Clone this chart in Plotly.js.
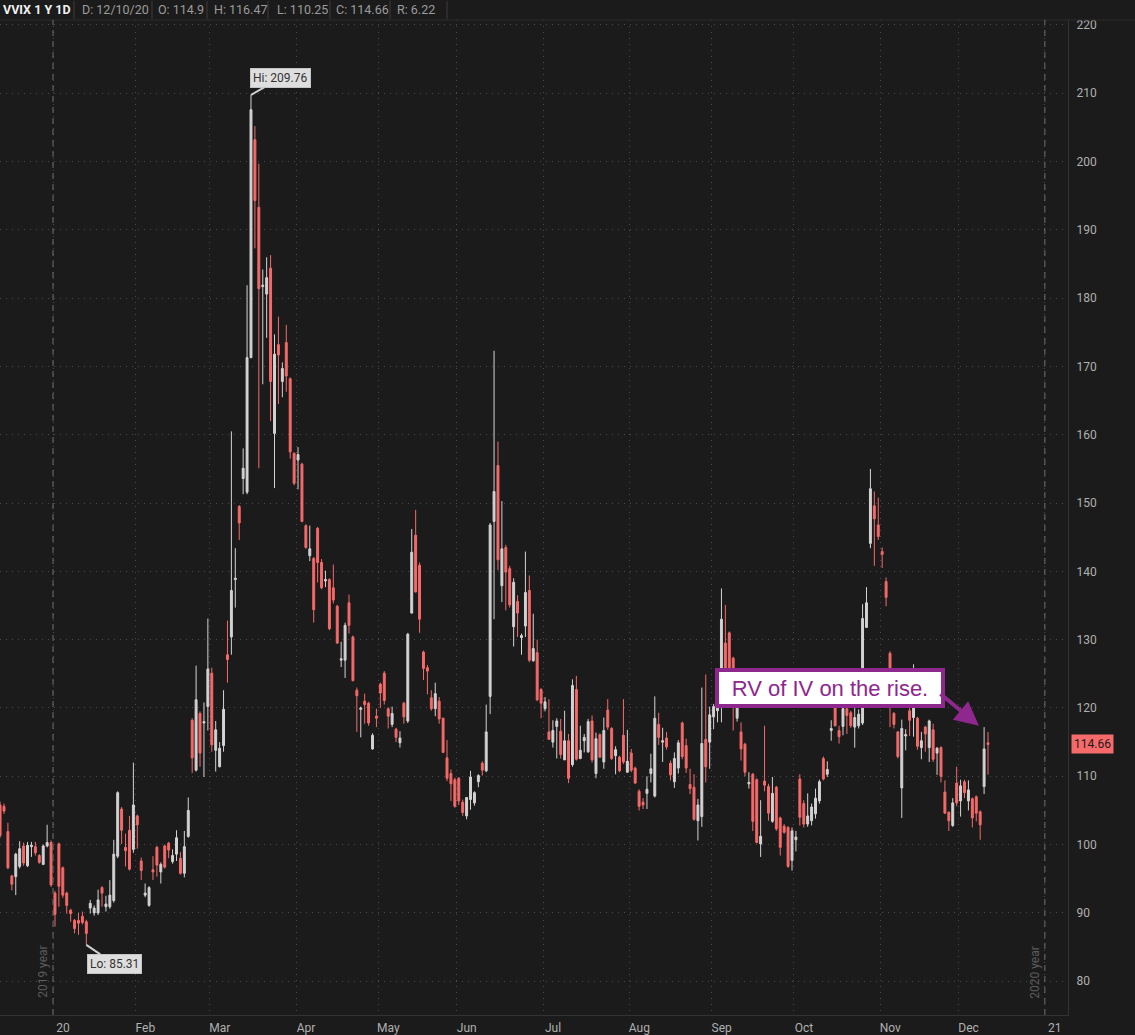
<!DOCTYPE html>
<html>
<head>
<meta charset="utf-8">
<script src="https://cdn.plot.ly/plotly-3.0.1.min.js"></script>
<style>
html,body{margin:0;padding:0;background:#1b1b1b;}
#chart{width:1135px;height:1035px;}
</style>
</head>
<body>
<div id="chart"></div>
<script>
// ---- trading days (year-month, day numbers) ----
const monthDays = [
  ["2019-12",[11,12,13,16,17,18,19,20,23,24,26,27,30,31]],
  ["2020-01",[2,3,6,7,8,9,10,13,14,15,16,17,21,22,23,24,27,28,29,30,31]],
  ["2020-02",[3,4,5,6,7,10,11,12,13,14,18,19,20,21,24,25,26,27,28]],
  ["2020-03",[2,3,4,5,6,9,10,11,12,13,16,17,18,19,20,23,24,25,26,27,30,31]],
  ["2020-04",[1,2,3,6,7,8,9,13,14,15,16,17,20,21,22,23,24,27,28,29,30]],
  ["2020-05",[1,4,5,6,7,8,11,12,13,14,15,18,19,20,21,22,26,27,28,29]],
  ["2020-06",[1,2,3,4,5,8,9,10,11,12,15,16,17,18,19,22,23,24,25,26,29,30]],
  ["2020-07",[1,2,6,7,8,9,10,13,14,15,16,17,20,21,22,23,24,27,28,29,30,31]],
  ["2020-08",[3,4,5,6,7,10,11,12,13,14,17,18,19,20,21,24,25,26,27,28,31]],
  ["2020-09",[1,2,3,4,8,9,10,11,14,15,16,17,18,21,22,23,24,25,28,29,30]],
  ["2020-10",[1,2,5,6,7,8,9,12,13,14,15,16,19,20,21,22,23,26,27,28,29,30]],
  ["2020-11",[2,3,4,5,6,9,10,11,12,13,16,17,18,19,20,23,24,25,27,30]],
  ["2020-12",[1,2,3,4,7,8,9,10]]
];
const holidays = ["2019-12-25","2020-01-01","2020-01-20","2020-02-17","2020-04-10","2020-05-25",
  "2020-07-03","2020-09-07","2020-11-26","2020-12-25","2021-01-01"];

// ---- OHLC values (VVIX daily) ----
const openV = [
 105.8,105.6,101.9,95.4,95.3,96.8,99.8,96.9,99.7,99.7,98.4,97.1,99.8,100.3,
 92.9,100.1,96.6,92.9,90.4,88.9,88.9,89.5,88.7,90.7,90.0,90.0,93.7,90.9,90.9,91.8,98.3,105.2,99.6,102.1,99.3,
 104.2,97.6,92.6,91.1,96.3,99.6,96.0,99.8,100.2,97.5,98.6,98.0,95.8,101.2,118.2,110.9,119.2,117.8,120.2,
 125.1,113.8,111.4,114.5,127.8,130.4,138.8,149.5,153.6,151.6,171.3,203.2,193.3,181.7,180.6,184.4,160.2,173.2,167.8,173.5,168.2,157.3,
 156.3,155.7,146.7,142.3,141.9,146.3,141.3,138.6,138.8,137.6,134.9,127.0,127.0,135.4,130.4,122.6,119.8,121.0,120.7,114.0,118.8,
 123.5,125.1,119.9,117.6,116.9,114.9,120.7,118.1,133.9,145.3,140.9,128.2,125.9,121.5,119.9,121.0,118.5,112.7,110.4,109.5,
 109.7,106.2,104.2,106.6,106.1,109.2,111.9,110.8,121.7,147.3,155.5,137.9,143.5,140.4,131.9,135.6,130.3,132.0,137.2,126.9,128.1,122.7,
 119.9,116.5,115.0,117.3,116.6,112.4,115.2,111.7,122.7,112.6,115.2,113.6,118.1,110.4,116.1,112.1,119.7,117.0,113.0,112.8,116.0,110.6,
 113.4,111.2,107.8,106.2,107.5,110.4,107.1,117.6,115.0,115.6,111.9,109.2,111.2,117.8,114.5,108.8,108.4,103.5,104.1,115.4,115.0,
 118.7,119.6,120.9,129.5,131.0,127.3,118.5,116.5,114.7,108.9,110.3,109.5,100.1,109.3,108.5,103.4,108.4,103.9,102.7,102.5,97.7,
 100.7,109.6,106.0,103.0,103.5,104.5,106.4,112.6,110.3,116.7,120.0,116.7,117.3,119.9,119.3,117.2,117.4,117.8,131.8,144.1,149.6,146.8,
 142.9,138.5,128.0,119.2,116.5,108.3,115.9,119.6,118.6,118.5,114.2,117.2,114.2,116.8,113.4,114.2,107.7,104.7,102.8,109.0,
 106.4,109.2,106.4,106.7,107.0,104.8,108.5,114.9
];
const highV = [
 106.3,106.0,103.2,95.6,98.8,100.5,100.3,100.4,100.4,100.4,98.6,100.0,102.9,100.6,
 93.2,100.3,96.8,93.1,90.6,89.1,90.0,90.2,89.0,91.9,91.1,93.4,93.9,92.5,94.8,100.7,107.8,105.5,101.6,104.2,112.0,
 104.4,98.1,94.3,93.9,98.3,99.8,97.4,100.0,100.4,99.3,102.1,98.9,102.0,106.9,118.5,126.2,119.5,120.8,133.1,
 125.9,118.1,115.0,122.6,132.8,160.5,143.4,149.7,158.0,181.9,209.76,205.2,199.7,184.2,186.0,186.3,174.7,177.3,170.6,176.1,168.4,157.4,
 158.2,155.9,146.9,146.7,142.1,146.5,141.8,140.1,139.0,141.0,135.1,129.7,132.5,136.6,130.6,123.0,120.2,122.1,120.9,116.3,119.9,
 123.7,125.4,120.1,120.2,117.1,116.6,120.9,131.0,146.2,149.0,141.3,128.4,126.3,122.6,123.7,121.6,118.6,115.3,111.0,109.8,
 109.9,106.6,106.9,110.8,107.8,110.3,112.2,120.5,147.1,172.3,159.0,150.3,143.9,140.8,139.0,136.5,130.9,142.9,139.4,133.8,130.0,122.9,
 121.6,121.3,118.2,118.5,118.4,119.6,116.2,124.2,124.7,117.4,116.2,118.4,118.9,116.4,116.3,118.6,121.3,117.2,114.4,113.0,121.3,116.8,
 114.0,111.4,108.1,106.8,110.0,113.3,121.7,119.3,117.1,116.5,112.3,113.5,115.3,118.0,115.5,111.1,110.3,106.7,123.0,124.9,120.2,
 120.6,122.5,137.5,135.1,131.2,127.5,122.0,117.9,114.9,110.6,110.5,109.7,106.5,117.4,108.9,109.9,108.6,104.1,103.0,102.7,102.5,
 102.0,110.3,106.5,107.5,106.0,108.2,109.5,112.9,112.2,118.2,121.0,117.4,120.5,120.2,119.6,120.0,119.8,135.2,137.7,155.0,151.7,150.8,
 143.5,139.1,128.3,119.4,116.6,118.3,116.9,120.4,126.4,118.7,116.5,117.4,118.3,117.7,114.3,114.4,109.4,104.9,106.8,111.4,
 109.5,109.5,109.4,106.9,107.2,105.0,117.2,116.47
];
const lowV = [
 101.0,104.5,96.4,93.3,92.6,96.5,96.9,96.7,98.2,98.4,97.2,97.0,99.6,93.8,
 88.0,90.9,92.2,89.9,88.7,87.0,86.8,88.3,85.31,89.9,89.6,89.7,90.9,90.2,90.6,91.5,98.0,100.1,96.8,96.2,98.8,
 99.4,94.8,92.3,90.9,94.8,95.3,94.3,96.5,98.0,97.2,97.6,95.6,95.2,101.0,110.5,110.7,111.4,109.9,116.7,
 113.6,110.7,111.3,113.6,123.7,127.8,134.7,144.6,151.3,151.3,171.2,187.3,155.1,167.4,174.2,162.0,152.2,164.5,165.5,166.3,156.5,152.6,
 152.0,147.2,143.3,141.5,132.5,138.4,137.4,137.7,131.4,135.3,129.4,126.0,124.4,130.9,123.9,116.5,115.7,117.7,117.4,113.9,117.2,
 120.0,120.5,117.0,117.2,115.0,114.2,117.7,117.8,133.8,136.9,131.0,124.1,122.0,119.6,118.8,117.7,113.4,109.3,106.4,105.4,
 105.8,104.2,103.7,105.1,105.7,108.4,110.1,110.6,119.1,133.0,140.2,135.5,134.3,134.7,129.0,130.4,127.8,130.4,126.7,126.8,121.0,118.5,
 119.5,115.4,114.2,112.6,112.6,112.4,109.0,111.4,112.3,112.5,113.5,113.4,112.0,109.7,112.7,111.1,116.8,112.4,110.3,110.6,111.8,110.5,
 110.6,108.9,105.0,105.2,105.2,109.1,106.9,114.6,112.1,113.9,109.4,108.3,110.4,112.5,110.5,107.4,103.5,100.6,102.6,109.1,111.1,
 116.9,117.9,117.9,120.6,122.0,116.7,118.0,112.3,110.0,108.2,102.0,100.2,98.2,107.8,103.5,103.2,102.0,98.4,101.6,96.6,96.2,
 99.0,102.8,102.5,102.6,102.8,103.8,106.0,109.4,109.9,115.2,117.3,114.8,116.0,116.2,117.1,114.2,117.0,117.5,131.7,143.4,140.8,144.6,
 140.5,134.9,117.2,117.0,112.6,103.9,113.8,115.9,115.8,113.9,112.5,113.6,112.1,112.1,110.2,109.1,104.5,102.0,102.6,105.6,
 104.1,106.8,105.0,102.5,103.4,100.7,107.4,110.25
];
const closeV = [
 101.3,104.9,96.6,94.2,98.6,99.4,97.3,99.9,99.9,98.8,97.4,99.8,100.3,94.1,
 89.8,93.9,92.6,91.1,89.9,87.7,88.5,88.6,87.0,91.4,90.7,91.9,92.9,91.3,92.6,98.6,107.6,102.1,99.1,96.4,105.8,
 102.9,96.2,92.9,93.7,96.0,97.0,97.1,96.7,99.2,98.4,101.0,95.8,99.7,105.0,112.7,121.2,113.4,118.0,125.7,
 114.6,116.8,114.1,119.8,127.1,137.2,139.0,147.1,155.1,171.3,207.6,194.3,181.4,181.9,183.0,167.8,171.8,171.7,169.7,168.6,157.5,152.9,
 157.1,147.3,143.5,143.3,134.4,141.3,137.6,138.8,131.6,135.8,129.5,127.2,132.1,132.1,124.0,121.8,120.0,120.5,117.8,116.0,118.5,
 122.2,121.1,118.8,119.2,115.7,115.6,118.7,130.8,142.8,137.0,133.0,125.8,125.4,119.9,122.1,118.4,113.5,109.7,108.9,105.6,
 106.4,104.7,106.9,109.9,107.6,110.1,110.9,116.5,146.8,151.7,141.7,143.3,139.9,135.1,138.4,133.9,130.6,136.9,127.0,128.7,121.2,120.7,
 120.9,115.4,116.7,118.1,113.2,115.2,109.7,123.3,112.5,113.8,115.7,118.0,112.4,115.5,112.8,116.7,117.2,112.6,113.9,110.8,112.1,112.2,
 110.9,109.0,105.6,105.8,108.1,111.1,118.5,115.7,115.2,114.3,110.2,112.6,114.9,112.9,111.2,108.2,103.7,105.8,114.8,111.4,119.0,
 120.2,122.1,133.0,120.9,124.0,121.5,121.0,114.0,110.6,109.1,103.4,100.3,101.2,108.7,104.6,107.5,102.3,99.6,101.8,96.8,102.0,
 101.1,104.0,103.0,104.2,105.5,106.8,109.2,109.6,111.0,117.0,117.4,115.8,119.9,118.9,117.4,118.6,119.1,133.1,135.4,152.1,147.7,145.1,
 142.5,136.2,121.0,117.6,112.9,117.0,116.1,118.2,121.1,114.4,115.2,116.2,118.1,112.5,114.1,110.0,104.6,103.5,106.1,106.1,
 108.6,107.6,108.0,103.9,104.6,102.9,114.0,114.66
];

// ---- axis tick labels ----
const monthTickDates = ["2020-01-02","2020-02-03","2020-03-02","2020-04-01","2020-05-01","2020-06-01",
  "2020-07-01","2020-08-03","2020-09-01","2020-10-01","2020-11-02","2020-12-01","2021-01-04"];
const monthTickText = ["20","Feb","Mar","Apr","May","Jun","Jul","Aug","Sep","Oct","Nov","Dec","21"];
const yearLines = [{date:"2020-01-02", label:"2019 year"},{date:"2021-01-04", label:"2020 year"}];
const headerItems = ["D: 12/10/20","O: 114.9","H: 116.47","L: 110.25","C: 114.66","R: 6.22"];
const noteText = "RV of IV on the rise.";

// ---- build ----
const dates = [];
monthDays.forEach(([ym, ds]) => ds.forEach(d => dates.push(ym + "-" + String(d).padStart(2, "0"))));
const xs = dates.map(d => d + " 12:00");

const UP = "#d3d3d3", DOWN = "#f66a6a", NOTE = "#8e278e";
const FONT = "Roboto, 'Open Sans', sans-serif";
const trace = {
  type: "candlestick",
  x: xs, open: openV, high: highV, low: lowV, close: closeV,
  increasing: {line: {color: UP, width: 1}, fillcolor: UP},
  decreasing: {line: {color: DOWN, width: 1}, fillcolor: DOWN},
  whiskerwidth: 0,
  hoverinfo: "skip",
  showlegend: false
};

const hiIdx = highV.indexOf(Math.max(...highV));
const loIdx = lowV.indexOf(Math.min(...lowV));
const lastClose = closeV[closeV.length - 1];

const W = 1068, H = 995; // plot area px
const px = v => v / W;
const pyTop = v => 1 + v / H; // px above plot top

const annotations = [];
// header
annotations.push({xref:"paper", yref:"paper", x:px(1), y:pyTop(10), xanchor:"left", yanchor:"middle",
  text:"<b>VVIX 1 Y 1D</b>", showarrow:false, font:{family:FONT, size:12.5, color:"#f2f2f2"}});
const headerX = [80, 156, 212, 275, 334, 395];
headerItems.forEach((t, i) => annotations.push({xref:"paper", yref:"paper", x:px(headerX[i]), y:pyTop(10),
  xanchor:"left", yanchor:"middle", text:t, showarrow:false,
  font:{family:FONT, size:12.5, color:"#9c9c9c"}}));

// year labels
yearLines.forEach(l => annotations.push({x:l.date, y:77.2, xref:"x", yref:"y", text:l.label, textangle:-90,
  showarrow:false, xanchor:"right", yanchor:"bottom", xshift:-1,
  font:{family:FONT, size:12, color:"#5c5c5c"}}));

// Hi / Lo callouts
annotations.push({x:xs[hiIdx], y:highV[hiIdx], text:"Hi: " + highV[hiIdx].toFixed(2), showarrow:true,
  ax:30, ay:-17, arrowhead:0, arrowwidth:2, arrowcolor:"#cfcfcf", bgcolor:"#dedede", bordercolor:"#c4c4c4",
  borderwidth:1, borderpad:2, font:{family:FONT, size:12, color:"#333"}});
annotations.push({x:xs[loIdx], y:lowV[loIdx], text:"Lo: " + lowV[loIdx].toFixed(2), showarrow:true,
  ax:28, ay:19, arrowhead:0, arrowwidth:2, arrowcolor:"#cfcfcf", bgcolor:"#dedede", bordercolor:"#c4c4c4",
  borderwidth:1, borderpad:2, font:{family:FONT, size:12, color:"#333"}});

// last price tag
annotations.push({xref:"paper", yref:"y", x:1, y:lastClose, xanchor:"left", yanchor:"middle", xshift:3,
  text:lastClose.toFixed(2), showarrow:false, bgcolor:DOWN, borderpad:2,
  font:{family:FONT, size:12, color:"#1a1a1a"}});

// user note: box + separate arrow
annotations.push({x:"2020-10-14 04:48", y:122.86, xref:"x", yref:"y", text:noteText,
  showarrow:false, xanchor:"center", yanchor:"middle",
  bgcolor:"#ffffff", bordercolor:NOTE, borderwidth:4, borderpad:2, width:218, height:28,
  font:{family:"'Liberation Sans', Arial, sans-serif", size:22, color:NOTE}});
annotations.push({x:"2020-12-08 04:48", y:117.4, xref:"x", yref:"y", text:"",
  showarrow:true, ax:-40, ay:-33, arrowhead:2, arrowsize:1.2, arrowwidth:4, arrowcolor:NOTE});

const shapes = [];
// header separators
[74, 152, 207, 268, 330, 390, 447].forEach(x => shapes.push({type:"line", xref:"paper", yref:"paper",
  x0:px(x), x1:px(x), y0:pyTop(1), y1:pyTop(19), line:{color:"#3d3d3d", width:1}}));
// header bottom border
shapes.push({type:"line", xref:"paper", yref:"paper", x0:0, x1:1135/W, y0:1, y1:1, line:{color:"#2c2c2c", width:1}});
// year dashed lines
yearLines.forEach(l => shapes.push({type:"line", xref:"x", yref:"paper", x0:l.date, x1:l.date, y0:0, y1:1,
  line:{color:"#6e6e6e", width:1, dash:"6px,5px"}}));

const layout = {
  width: 1135, height: 1035,
  margin: {l:0, r:67, t:20, b:20, pad:0},
  paper_bgcolor: "#1b1b1b", plot_bgcolor: "#1b1b1b",
  showlegend: false,
  dragmode: false,
  xaxis: {
    type: "date",
    rangeslider: {visible:false},
    rangebreaks: [{bounds:["sat","mon"]}, {values: holidays}],
    range: ["2019-12-11 11:30", "2021-01-11 21:36"],
    tickmode: "array", tickvals: monthTickDates, ticktext: monthTickText,
    ticks: "", ticklabelshift: 10, ticklabelstandoff: 2,
    showgrid: true, gridcolor: "#4c4c4c", griddash: "1px,5px", gridwidth: 1,
    showline: true, linecolor: "#333333", linewidth: 1, mirror: false,
    zeroline: false,
    tickfont: {family:FONT, size:12, color:"#b0b0b0"}
  },
  yaxis: {
    side: "right",
    range: [75.05, 220.73],
    tick0: 80, dtick: 10,
    ticks: "", ticklabelstandoff: 5,
    showgrid: true, gridcolor: "#4c4c4c", griddash: "1px,5px", gridwidth: 1,
    showline: true, linecolor: "#333333", linewidth: 1,
    zeroline: false,
    tickfont: {family:FONT, size:12, color:"#b0b0b0"}
  },
  annotations: annotations,
  shapes: shapes
};

Plotly.newPlot("chart", [trace], layout, {staticPlot:true, displayModeBar:false});
</script>
</body>
</html>
